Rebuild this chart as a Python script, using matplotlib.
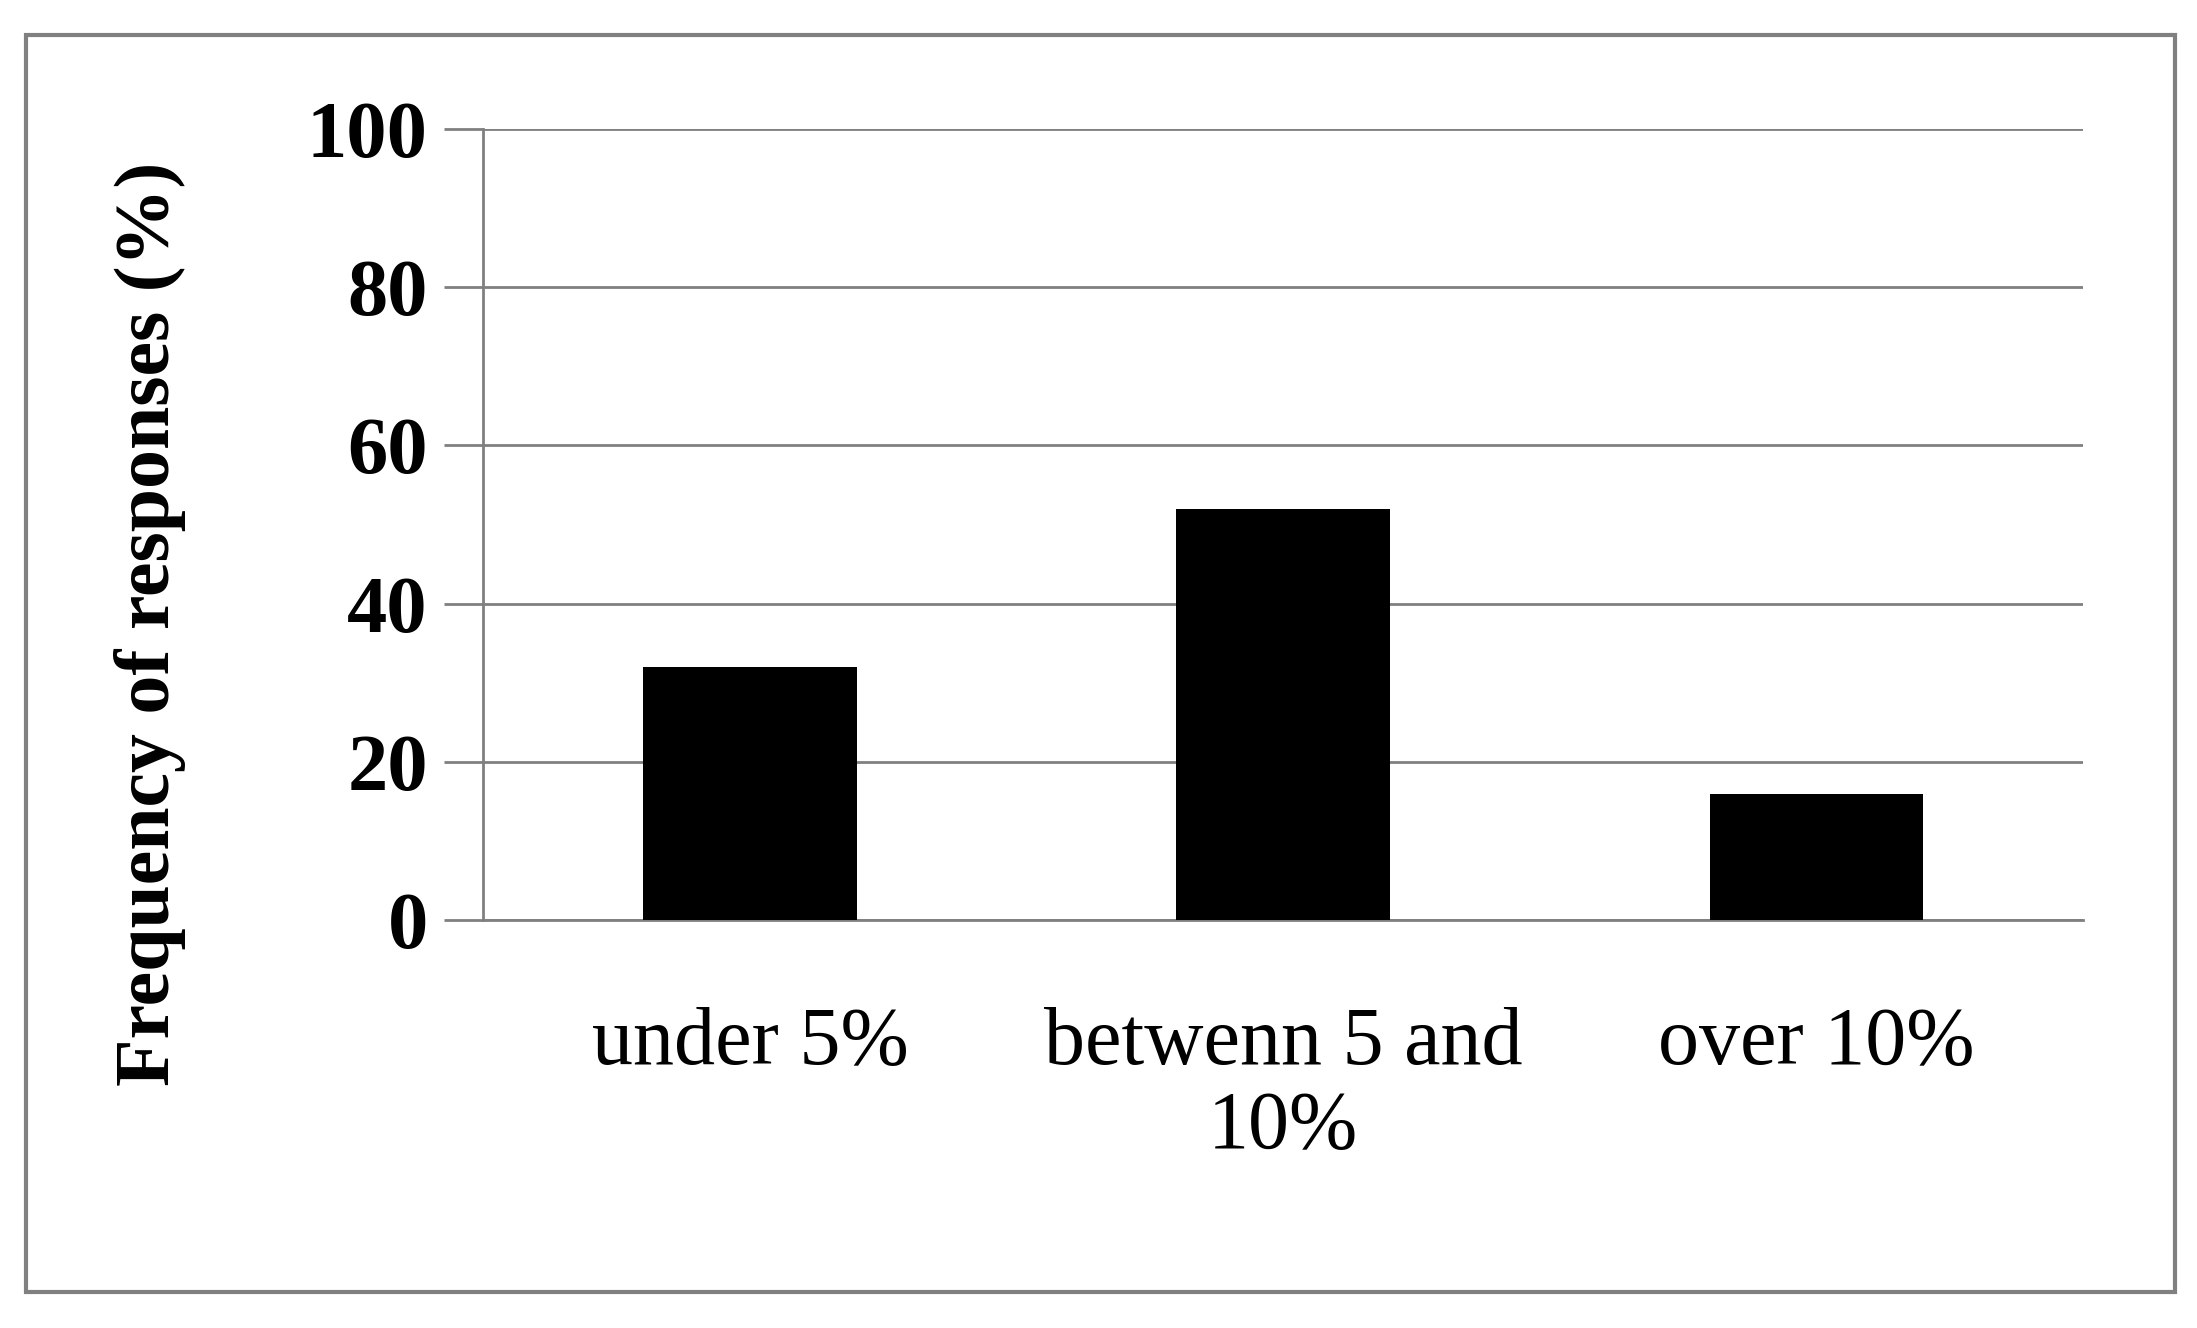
import matplotlib.pyplot as plt
import matplotlib.patches as patch

categories = ["under 5%", "betwenn 5 and\n10%", "over 10%"]
values = [32, 52, 16]
yticks = [0, 20, 40, 60, 80, 100]

plt.rcParams["font.family"] = ["Liberation Serif", "DejaVu Serif"]

fig = plt.figure(figsize=(21.97, 13.28), dpi=100)
ax = fig.add_axes([0.22, 0.307, 0.728, 0.596])

# outer frame around the whole chart
fig.patches.append(
    patch.Rectangle((0.012, 0.027), 0.978, 0.947, transform=fig.transFigure,
                    fill=False, edgecolor="#808080", linewidth=3)
)

x = range(len(categories))
ax.bar(x, values, width=0.4, color="black", zorder=3)

ax.set_xlim(-0.5, 2.5)
ax.set_ylim(0, 100)
ax.set_yticks(yticks)
ax.set_yticklabels([str(t) for t in yticks], fontsize=58, fontweight="bold")
ax.set_xticks(list(x))
ax.set_xticklabels(categories, fontsize=59, linespacing=1.15)
ax.tick_params(axis="x", length=0, pad=62)
ax.tick_params(axis="y", length=28, width=2, color="#808080", pad=12)

ax.grid(axis="y", color="#808080", linewidth=2, zorder=0)
for s in ["top", "right"]:
    ax.spines[s].set_visible(False)
for s in ["left", "bottom"]:
    ax.spines[s].set_color("#808080")
    ax.spines[s].set_linewidth(2)

ax.set_ylabel("Frequency of responses (%)", fontsize=56, fontweight="bold")
ax.yaxis.set_label_coords(-0.186, 0.375)

fig.savefig("out.png", dpi=100)
